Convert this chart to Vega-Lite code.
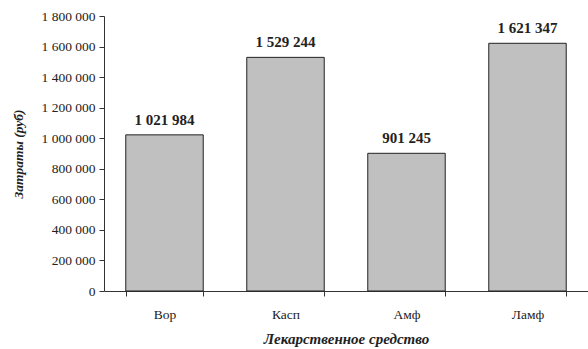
{
  "$schema": "https://vega.github.io/schema/vega-lite/v6.json",
  "width": 484,
  "height": 275,
  "autosize": {"type": "none"},
  "padding": {"left": 104, "top": 16, "right": 0, "bottom": 58},
  "background": "white",
  "config": {
    "locale": {"number": {"decimal": ",", "thousands": " ", "grouping": [3], "currency": ["", ""]}},
    "view": {"stroke": null},
    "font": "Liberation Serif"
  },
  "data": {
    "values": [
      {"drug": "Вор", "cost": 1021984},
      {"drug": "Касп", "cost": 1529244},
      {"drug": "Амф", "cost": 901245},
      {"drug": "Ламф", "cost": 1621347}
    ]
  },
  "encoding": {
    "x": {
      "field": "drug",
      "type": "nominal",
      "sort": null,
      "scale": {"paddingInner": 0.36, "paddingOuter": 0.18},
      "axis": {
        "title": "Лекарственное средство",
        "titleFont": "Liberation Serif",
        "titleFontStyle": "italic",
        "titleFontWeight": "bold",
        "titleFontSize": 15,
        "titleColor": "#222",
        "titlePadding": 11,
        "labelAngle": 0,
        "labelFont": "Liberation Serif",
        "labelFontSize": 13.5,
        "labelColor": "#222",
        "labelPadding": 11,
        "tickBand": "extent",
        "tickSize": 5,
        "tickColor": "#333",
        "domainColor": "#333",
        "grid": false
      }
    },
    "y": {
      "field": "cost",
      "type": "quantitative",
      "scale": {"domain": [0, 1800000], "nice": false},
      "axis": {
        "title": "Затраты (руб)",
        "titleFont": "Liberation Serif",
        "titleFontStyle": "italic",
        "titleFontWeight": "bold",
        "titleFontSize": 13.5,
        "titleColor": "#222",
        "titlePadding": 16,
        "values": [0, 200000, 400000, 600000, 800000, 1000000, 1200000, 1400000, 1600000, 1800000],
        "format": ",d",
        "labelFont": "Liberation Serif",
        "labelFontSize": 13.5,
        "labelColor": "#222",
        "labelPadding": 4,
        "tickSize": 5,
        "tickColor": "#333",
        "domainColor": "#333",
        "grid": false
      }
    }
  },
  "layer": [
    {
      "mark": {"type": "bar", "fill": "#c0c0c0", "stroke": "#222", "strokeWidth": 1}
    },
    {
      "mark": {"type": "text", "baseline": "alphabetic", "dy": -10, "font": "Liberation Serif", "fontWeight": "bold", "fontSize": 15, "color": "#222"},
      "encoding": {"text": {"field": "cost", "type": "quantitative", "format": ",d"}}
    }
  ]
}
